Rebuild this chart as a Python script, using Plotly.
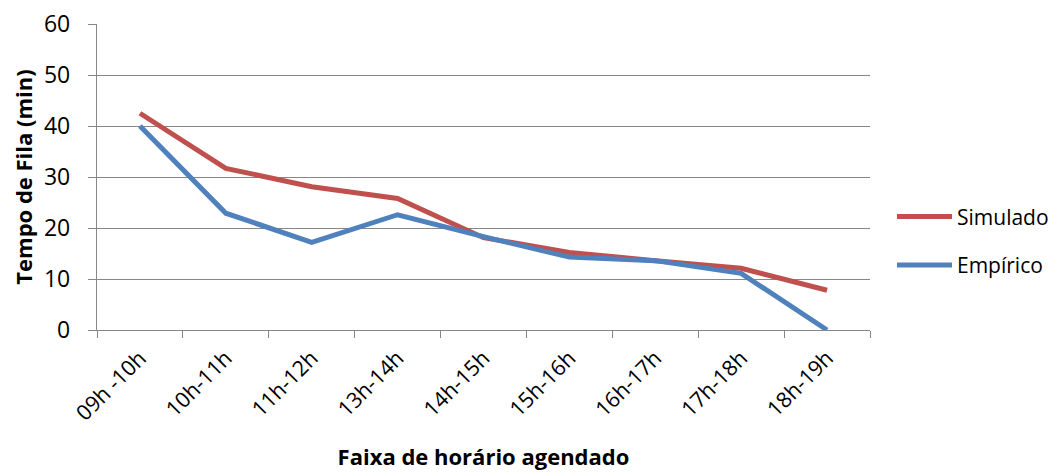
import plotly.graph_objects as go

categories = ["09h -10h", "10h-11h", "11h-12h", "13h-14h", "14h-15h",
              "15h-16h", "16h-17h", "17h-18h", "18h-19h"]
simulado = [42.5, 31.7, 28.1, 25.8, 18.1, 15.2, 13.6, 12.1, 7.8]
empirico = [40.0, 22.9, 17.2, 22.6, 18.3, 14.3, 13.6, 11.1, 0.0]

FONT = "Open Sans"
GRID = "#878787"

fig = go.Figure()
fig.add_trace(go.Scatter(x=categories, y=simulado, mode="lines", name="Simulado",
                         legendgroup="a",
                         line=dict(color="#C0504D", width=5)))
fig.add_trace(go.Scatter(x=categories, y=empirico, mode="lines", name="Empírico",
                         legendgroup="b",
                         line=dict(color="#4F81BD", width=5)))

fig.update_layout(
    width=1060, height=474,
    margin=dict(l=89, r=198, t=16, b=152, autoexpand=False),
    paper_bgcolor="white", plot_bgcolor="white",
    font=dict(family=FONT, size=22, color="black"),
    showlegend=True,
    legend=dict(x=1 + 22 / 773, y=0.291, xanchor="left", yanchor="middle",
                font=dict(size=21), itemwidth=55, tracegroupgap=18,
                traceorder="grouped",
                bgcolor="rgba(0,0,0,0)"),
    xaxis=dict(type="category", range=[-0.5, 8.5], tickson="boundaries",
               automargin=False,
               ticks="outside", ticklen=7, tickcolor=GRID, tickwidth=1.3,
               showline=True, linecolor=GRID, linewidth=1.3,
               showgrid=False, tickangle=-45, ticklabelstandoff=6,
               tickfont=dict(size=21.5),
               title=dict(text="<b>Faixa de horário agendado</b>",
                          font=dict(size=22), standoff=24)),
    yaxis=dict(range=[0, 60], dtick=10, tick0=0,
               automargin=False, ticklabeloverflow="allow",
               ticks="outside", ticklen=8, tickcolor=GRID, tickwidth=1.3,
               showline=True, linecolor=GRID, linewidth=1.3,
               showgrid=True, gridcolor=GRID, gridwidth=1.3,
               zeroline=False, ticklabelstandoff=13,
               tickfont=dict(size=23),
               title=dict(text="<b>Tempo de Fila (min)</b>",
                          font=dict(size=22), standoff=6)),
)

fig.write_html("out.html")
